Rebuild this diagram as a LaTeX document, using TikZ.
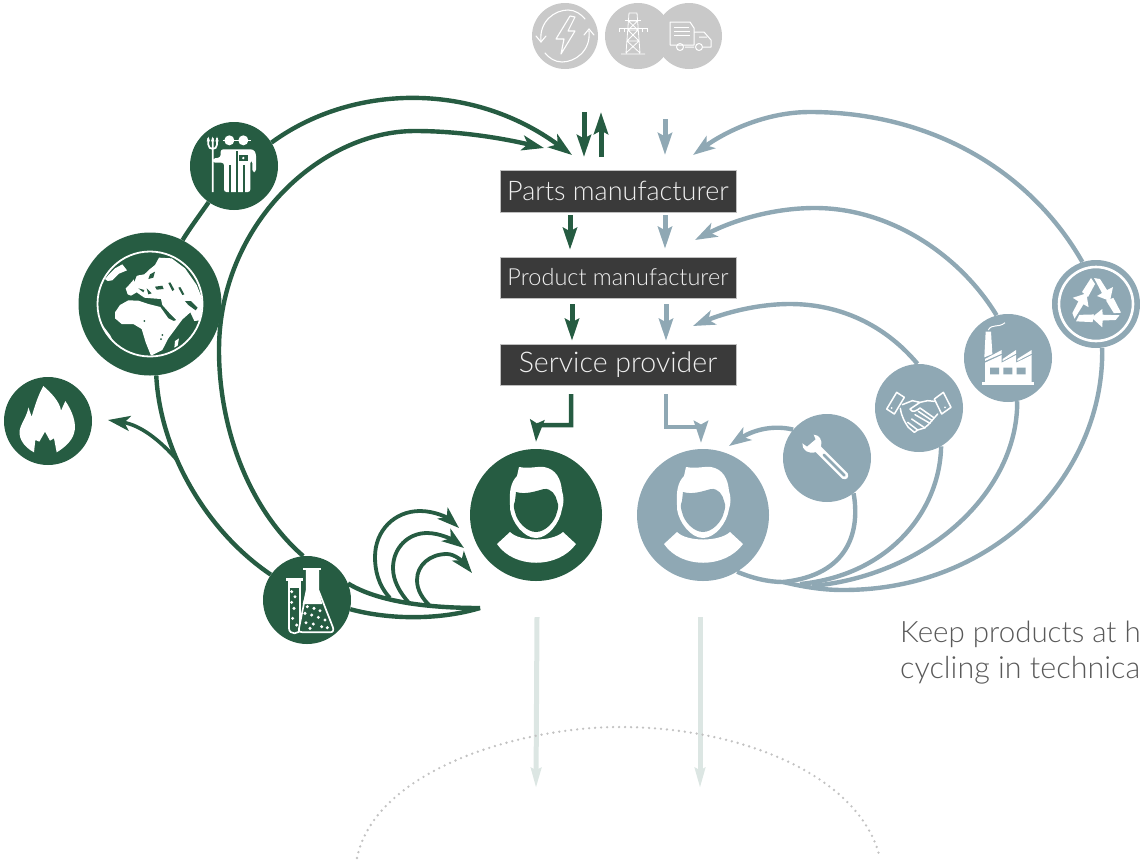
\documentclass[tikz,border=0pt]{standalone}
\usepackage{fontspec}
\setmainfont{Lato}[UprightFont={* Light}]
\usetikzlibrary{arrows.meta,calc}
\definecolor{gr}{HTML}{265C42}
\definecolor{bl}{HTML}{8FA8B4}
\definecolor{dk}{HTML}{3A3A3A}
\definecolor{gy}{HTML}{C9C9C9}
\definecolor{pale}{HTML}{DCE6E3}
\pgfdeclarelayer{bg}
\pgfsetlayers{bg,main}
\tikzset{
  disc/.style={circle,inner sep=0,minimum size=#1*2,draw=none},
  box/.style={fill=dk,minimum width=236,inner sep=0,text=white!94!black,draw=white!75!black,line width=.4},
  flow/.style={line width=4.4,line cap=butt},
  bigtip/.style={-{Stealth[length=24,width=16,inset=6]}},
  smalltip/.style={-{Stealth[length=22,width=15,inset=5.5]}},
  midtip/.style={-{Stealth[length=22,width=14,inset=3.5]}},
  pale line/.style={draw=pale,line width=5,-{Stealth[length=20,width=10,inset=2]}},
  thinw/.style={draw=white,line width=1.1,fill=none},
}
\newcommand{\personicon}[2]{%
 \begin{scope}[shift={(#1)}]
  \fill[white] (-26,-10) .. controls (-27,-24) and (-25,-33) .. (-19,-39) -- (-17,-48) .. controls (-6,-46) and (2,-49) .. (8,-48) .. controls (20,-46) and (25,-36) .. (26,-24) .. controls (28,-18) and (28,-12) .. (26,-6) .. controls (24,8) and (12,23) .. (0,23) .. controls (-12,23) and (-24,8) .. (-26,-6) -- cycle;
  \fill[#2] (-20,-23) .. controls (-10,-20) and (0,-24) .. (8,-26) .. controls (15,-27) and (20,-20) .. (21,-14) .. controls (23,-10) and (22,-6) .. (21,-3) .. controls (19,7) and (9,17) .. (0,17) .. controls (-9,17) and (-19,7) .. (-21,-3) .. controls (-22,-6) and (-23,-10) .. (-21,-14) -- cycle;
  \fill[white] (-39,29) -- (-26,17) .. controls (-16,27) and (16,27) .. (27,17) -- (40,29) .. controls (22,54) and (-22,54) .. (-39,29) -- cycle;
 \end{scope}}
\begin{document}
\begin{tikzpicture}[x=1pt,y=-1pt,font=\fontsize{27}{30}\selectfont]
\useasboundingbox (0,0) rectangle (1140,863);
% ---------- discs
\node[disc=33,fill=gy] (cyc) at (565,36) {};
\node[disc=33,fill=gy] (tow) at (638,36) {};
\node[disc=33,fill=gy] (trk) at (689,36) {};
\node[disc=44,fill=gr] (farm) at (234,166) {};
\node[disc=71.5,fill=gr] (glob) at (150,304) {};
\node[disc=44,fill=gr] (fire) at (48,421) {};
\node[disc=44,fill=gr] (flsk) at (307,600) {};
\node[disc=66,fill=gr] (pg) at (536,515) {};
\node[disc=66,fill=bl] (pb) at (703,515) {};
\node[disc=44,fill=bl] (wren) at (827,458) {};
\node[disc=44,fill=bl] (hand) at (919,408) {};
\node[disc=44,fill=bl] (fact) at (1008,358) {};
\node[disc=44,fill=bl] (recy) at (1096,304) {};
% ---------- boxes
\node[box,minimum height=42] (parts) at (618,191) {Parts manufacturer};
\node[box,minimum height=41,font=\fontsize{23.5}{28}\selectfont] (prod) at (618,277.5) {Product manufacturer};
\node[box,minimum height=41,font=\fontsize{28.5}{32}\selectfont] (serv) at (618,364.5) {Service provider};
% ---------- text
\node[anchor=base west,inner sep=0,text=black!65,font=\fontsize{29.5}{32}\selectfont] (t1) at (900,642) {Keep products at h};
\node[anchor=base west,inner sep=0,text=black!65,font=\fontsize{30.5}{32}\selectfont] (t2) at (900,678) {cycling in technica};
% ---------- free ends
\coordinate (gt1) at (572,155);
\coordinate (gt2) at (544,148);
\coordinate (ft) at (108,420);
\coordinate (fj) at (177,460);
\coordinate (conv) at (480,608);
\coordinate (a1) at (459,528);
\coordinate (a2) at (464,548);
\coordinate (a3) at (472,573);
\coordinate (b1) at (693,155);
\coordinate (b2) at (695,240);
\coordinate (b3) at (693,326);
\coordinate (b4) at (729,446);
\coordinate (m0) at (783,582);
\coordinate (m1) at (800,584);
\coordinate (m2) at (812,586);
\coordinate (s1) at (584,112);\coordinate (s2) at (584,157);
\coordinate (u1) at (601,157);\coordinate (u2) at (601,112);
\coordinate (v1) at (665,119);\coordinate (v2) at (665,155);
\begin{pgfonlayer}{bg}
\begin{scope}[draw=gr,flow]
\draw[gr,bigtip] (farm.32) .. controls (350,85) and (470,80) .. (gt1);
\draw[gr,smalltip] (flsk.95) .. controls (250,510) and (219,430) .. (219,350) .. controls (219,225) and (320,131) .. (415,131) .. controls (465,131) and (510,140) .. (gt2);
\draw[gr] (farm.-125) .. controls (199,216) and (190,228) .. (glob.63);
\draw[gr] (glob.-85) .. controls (160,450) and (205,530) .. (flsk.145);
\draw[gr,smalltip,line width=3.6] (fj) .. controls (160,440) and (140,425) .. (ft);
\draw[gr] (flsk.22) .. controls (375,600) and (420,608) .. (conv);
\draw[gr] (flsk.-12) .. controls (390,620) and (440,620) .. (conv);
\draw[gr,smalltip,line width=3.8] (390,598) .. controls (378,585) and (375,570) .. (375,557) .. controls (375,530) and (395,511) .. (420,511) .. controls (435,511) and (448,518) .. (a1);
\draw[gr,smalltip,line width=3.8] (410,604) .. controls (399,592) and (393,580) .. (393,568) .. controls (393,548) and (408,533) .. (427,533) .. controls (440,533) and (453,540) .. (a2);
\draw[gr,smalltip,line width=3.8] (430,606) .. controls (422,598) and (417,590) .. (417,580) .. controls (417,565) and (430,554) .. (447,554) .. controls (455,554) and (463,562) .. (a3);
% arrows between boxes
\draw[gr,midtip,line width=5] (s1) -- (s2);
\draw[gr,midtip,line width=5] (u1) -- (u2);
\draw[gr,midtip,line width=5] ($(parts.south)+(-48,3)$) -- ($(prod.north)+(-48,-7)$);
\draw[gr,midtip,line width=5] ($(prod.south)+(-46,6)$) -- ($(serv.north)+(-46,-3)$);
\draw[gr,midtip,line width=4.5] ($(serv.south)+(-47,9)$) -- ++(0,31) -- ++(-34,0) -- (pg.north|-0,442);
\end{scope}
\begin{scope}[draw=bl,flow]
\draw[bl,smalltip] (recy.108) .. controls (1030,170) and (930,112) .. (810,112) .. controls (765,112) and (725,132) .. (b1);
\draw[bl,smalltip] (fact.105) .. controls (960,255) and (890,208) .. (815,208) .. controls (770,208) and (730,222) .. (b2);
\draw[bl,smalltip] (hand.92) .. controls (885,325) and (840,304) .. (790,304) .. controls (755,304) and (722,314) .. (b3);
\draw[bl,smalltip] (wren.140) .. controls (770,424) and (750,432) .. (b4);
\draw[bl] (wren.-53) .. controls (860,530) and (850,575) .. (m0);
\draw[bl] (hand.-60) .. controls (940,510) and (890,575) .. (m1);
\draw[bl] (fact.-78) .. controls (1018,490) and (930,575) .. (m2);
\draw[bl] (recy.-82) .. controls (1105,470) and (1000,590) .. (843,590) .. controls (820,590) and (800,586) .. (m0);
\draw[bl] (pb.-59) .. controls (752,578) and (768,582) .. (m0);
\draw[bl,midtip,line width=5] (v1) -- (v2);
\draw[bl,midtip,line width=5] ($(parts.south)+(47,3)$) -- ($(prod.north)+(47,-8)$);
\draw[bl,midtip,line width=5] ($(prod.south)+(48,6)$) -- ($(serv.north)+(48,-3)$);
\draw[bl,midtip,line width=4.5] ($(serv.south)+(48,9)$) -- ++(0,33) -- ++(35,0) -- (701,443);
\end{scope}
\draw[pale line] ($(pg.south)+(1,36)$) -- ++(-1,171);
\draw[pale line] ($(pb.south)+(-3,36)$) -- ++(0,171);
\draw[black!24,line width=2.6,line cap=round,dash pattern=on 0pt off 6pt] (357,858) .. controls (375,770) and (520,727) .. (620,727) .. controls (740,727) and (860,775) .. (880,858);
\end{pgfonlayer}
% ---------- person icons
\personicon{pg}{gr}
\personicon{pb}{bl}
% ---------- globe
\draw[white,line width=1.8] (glob) circle (52.5);
\begin{scope}
\clip (glob) circle (52);
\begin{scope}[shift={(glob)},x=.3333pt,y=-.3333pt]
\begin{scope}[shift={(-135,-147)}]
\fill[white] (68,118) -- (62,100) -- (72,90) -- (85,75) -- (95,62) -- (118,58) -- (135,42) -- (150,30) -- (162,8) -- (200,10) -- (240,40) -- (275,90) -- (295,140) -- (295,195) -- (268,198) -- (256,172) -- (236,190) -- (215,196) -- (197,178) -- (172,150) -- (168,132) -- (140,130) -- (118,128) -- (95,112) -- (78,122) -- cycle;
\fill[white] (30,172) -- (45,150) -- (70,136) -- (100,137) -- (130,147) -- (166,156) -- (190,190) -- (206,198) -- (236,188) -- (208,226) -- (190,250) -- (172,285) -- (138,302) -- (122,262) -- (110,222) -- (85,207) -- (50,207) -- (30,190) -- cycle;
\fill[white] (0,72) -- (12,58) -- (30,40) -- (52,28) -- (66,46) -- (42,56) -- (22,76) -- (8,78) -- cycle;
\fill[white] (-22,190) -- (-4,215) -- (15,240) -- (38,285) -- (30,300) -- (-20,260) -- cycle;
\fill[white] (210,258) -- (222,250) -- (218,272) -- (208,278) -- cycle;
\fill[gr] (85,62) -- (110,42) -- (130,42) -- (112,55) -- (95,62) -- (88,80) -- cycle;
\fill[gr] (135,58) -- (150,50) -- (145,68) -- (130,72) -- cycle;
\fill[gr] (100,100) -- (118,105) -- (115,112) -- cycle (125,100) -- (140,115) -- (130,118) -- cycle;
\fill[gr] (150,95) -- (172,92) -- (176,102) -- (155,104) -- cycle;
\fill[gr] (190,84) -- (196,82) -- (208,104) -- (202,108) -- cycle (220,98) -- (226,96) -- (238,118) -- (232,120) -- cycle;
\fill[gr] (240,138) -- (258,138) -- (278,158) -- (272,166) -- (250,150) -- cycle;
\fill[gr] (118,198) circle (3) (172,240) circle (3) (168,252) circle (3);
\end{scope}
\end{scope}
\end{scope}
% ---------- fire
\begin{scope}[shift={(fire)},x=.3333pt,y=-.3333pt]
\fill[white,shift={(-144,-603)}] (102,697) .. controls (70,680) and (50,650) .. (62,620) .. controls (70,600) and (82,585) .. (85,562) -- (95,590) .. controls (105,555) and (115,525) .. (130,498) .. controls (150,515) and (180,545) .. (183,572) -- (196,543) .. controls (215,570) and (232,610) .. (222,640) .. controls (215,665) and (190,685) .. (170,697) -- (162,655) -- (150,662) -- (135,635) -- (118,665) -- (106,660) -- cycle;
\end{scope}
% ---------- flask
\begin{scope}[shift={(flsk)},x=.3333pt,y=-.3333pt]
\begin{scope}[shift={(-171,-480)}]
\draw[white,line width=1.7pt,fill=gr] (117,420) -- (117,565) .. controls (117,585) and (150,585) .. (150,565) -- (150,420);
\fill[white] (108,415) rectangle (160,423);
\fill[white] (117,420) rectangle (150,445);
\draw[white,line width=1.7pt,fill=gr,line join=round] (170,388) -- (170,450) -- (147,565) .. controls (145,575) and (150,577) .. (158,577) -- (240,577) .. controls (250,577) and (252,570) .. (248,560) -- (205,450) -- (205,388);
\fill[white] (170,388) -- (205,388) -- (205,450) -- (217,492) -- (158,492) -- (170,450) -- cycle;
\fill[white] (160,383) rectangle (213,391);
\foreach \p/\r in {125/455,135/470,125/487,132/505,128/535,140/555,172/500,192/505,210/512,165/520,185/525,205/532,225/540,168/548,190/552,215/560,232/563,180/565}{\fill[white] (\p,\r) circle (5);}
\end{scope}
\end{scope}
% ---------- farmer
\begin{scope}[shift={(farm)},x=.3333pt,y=-.3333pt]
\begin{scope}[shift={(-132,-132)}]
\draw[white,line width=1.7pt] (55,48) -- (55,68) .. controls (55,85) and (81,85) .. (81,68) -- (81,48) (68,48) -- (68,210);
\fill[white] (50,58) -- (55,44) -- (60,58) -- cycle (63,58) -- (68,44) -- (73,58) -- cycle (76,58) -- (81,44) -- (86,58) -- cycle;
\fill[white] (118,55) circle (15) (160,55) circle (15);
\draw[white,line width=1.2pt] (98,56) -- (182,56);
\fill[white,rounded corners=2.5pt] (92,82) -- (190,82) -- (198,94) -- (198,150) -- (187,150) -- (187,116) -- (181,116) -- (181,210) -- (102,210) -- (102,122) -- (68,122) -- (68,110) -- (92,106) -- cycle;
\draw[gr,line width=1.7pt] (121,130) -- (121,212) (141,88) -- (141,212) (162,130) -- (162,212);
\fill[gr] (147,98) rectangle (173,118);
\draw[white,line width=.9pt] (154,98) -- (154,93) -- (166,93) -- (166,98);
\fill[white] (160,108) circle (4);
\end{scope}
\end{scope}
% ---------- recycle
\draw[white,line width=2.6] (recy) circle (37);
\foreach \a in {0,120,240}{
\fill[white,shift={(recy)},rotate=\a] (-14,-12) -- (-5,-26) -- (-1,-20) -- (-8,-7) -- cycle;
\fill[white,shift={(recy)},rotate=\a] (-2,-26) -- (4,-25) -- (11,-14) -- (17,-17) -- (14,-3) -- (1,-8) -- (6,-11) -- cycle;}
% ---------- factory
\begin{scope}[shift={(fact)},x=.3333pt,y=-.3333pt]
\begin{scope}[shift={(-1134,-294)}]
\fill[white] (1057,367) rectangle (1212,376);
\fill[white] (1065,367) -- (1065,308) -- (1115,285) -- (1115,308) -- (1158,285) -- (1158,308) -- (1205,285) -- (1205,367) -- cycle;
\fill[white] (1063,292) -- (1067,215) -- (1083,215) -- (1087,282) -- cycle;
\fill[white] (1065,297) -- (1115,270) -- (1115,281) -- (1065,303) -- cycle (1118,297) -- (1158,270) -- (1158,281) -- (1118,303) -- cycle (1162,297) -- (1205,270) -- (1205,281) -- (1162,303) -- cycle;
\fill[bl] (1080,323) rectangle (1107,343) (1120,323) rectangle (1147,343) (1160,323) rectangle (1187,343);
\draw[white,line width=1pt] (1075,210) .. controls (1085,190) and (1105,205) .. (1125,188);
\end{scope}
\end{scope}
% ---------- handshake
\begin{scope}[shift={(hand)},x=.3333pt,y=-.3333pt]
\begin{scope}[shift={(-132,-132)},draw=white,line width=1.5pt,line join=round,line cap=round]
\draw (65,85) -- (88,100) -- (58,150) -- (35,135) -- cycle;
\draw (205,85) -- (228,130) -- (200,150) -- (178,105) -- cycle;
\fill[white] (50,132) circle (3) (210,130) circle (3);
\draw (82,122) -- (112,110) -- (135,115) -- (105,135) .. controls (112,148) and (125,140) .. (135,132) -- (175,160) (135,115) -- (158,110) -- (178,112);
\draw (76,133) .. controls (80,160) and (90,175) .. (100,190) -- (118,205) -- (128,198) -- (148,192) -- (160,182) -- (188,150);
\draw (120,152) -- (165,178) (110,165) -- (150,192) (98,175) -- (128,198) (130,142) -- (172,170);
\end{scope}
\end{scope}
% ---------- wrench
\begin{scope}[shift={(wren)},x=.3333pt,y=-.3333pt]
\begin{scope}[shift={(-132,-132)}]
\fill[white] (92,62) .. controls (108,62) and (120,78) .. (114,98) -- (194,178) .. controls (200,190) and (190,200) .. (178,194) -- (98,114) .. controls (78,122) and (56,108) .. (58,88) -- (72,98) -- (98,76) -- cycle;
\draw[bl,line width=2.6pt,line cap=round] (122,122) -- (184,184);
\end{scope}
\end{scope}
% ---------- top icons
\begin{scope}[shift={(cyc)},line cap=round]
\draw[thinw] (-24,5) .. controls (-26,-15) and (-10,-26) .. (3,-26) .. controls (10,-26) and (16,-22) .. (20,-17);
\draw[thinw] (24,-5) .. controls (26,15) and (10,26) .. (-3,26) .. controls (-10,26) and (-16,22) .. (-20,17);
\draw[thinw] (-29,0) -- (-24,6) -- (-19,0);
\draw[thinw] (19,-1) -- (24,-7) -- (29,-1);
\draw[thinw,line join=round] (5,-20) -- (-9,3) -- (-1,3) -- (-4,18) -- (10,-5) -- (3,-5) -- (10,-19) -- cycle;
\end{scope}
\begin{scope}[shift={(tow)},line join=round,xshift=-5]
\draw[white,line width=.8] (-4,-23) -- (-7,17) (4,-23) -- (7,17) (-4,-23) -- (4,-23) (-4.6,-15) -- (4.6,-15) (-5,-6) -- (5,-6) (-6,5) -- (6,5) (-4.6,-15) -- (5,-6) (4.6,-15) -- (-5,-6) (-5,-6) -- (6,5) (5,-6) -- (-6,5) (-6,5) -- (7,17) (6,5) -- (-7,17) (-12,18) -- (12,18);
\draw[white,line width=.8] (-14,-8) -- (14,-8) (-14,-8) -- (-14,-4) (14,-8) -- (14,-4) (-9,-8) -- (-9,-4) (9,-8) -- (9,-4) (-8,-16) -- (8,-16);
\end{scope}
\begin{scope}[shift={(trk)},line join=round]
\draw[white,line width=1] (-19,-14) -- (1,-14) -- (5,-8) -- (5,9) -- (-19,9) -- cycle;
\draw[white,line width=1] (5,-4) -- (15,-4) -- (22,4) -- (22,11) -- (14,11) (5,11) -- (-4,11);
\draw[white,line width=1] (-15,-9) -- (0,-9) (-15,-5) -- (1,-5) (-15,-1) -- (1,-1);
\draw[white,line width=1] (-9,11) circle (3.5) (10,11) circle (3.5) (10,1) -- (18,1) ;
\end{scope}
\end{tikzpicture}
\end{document}
